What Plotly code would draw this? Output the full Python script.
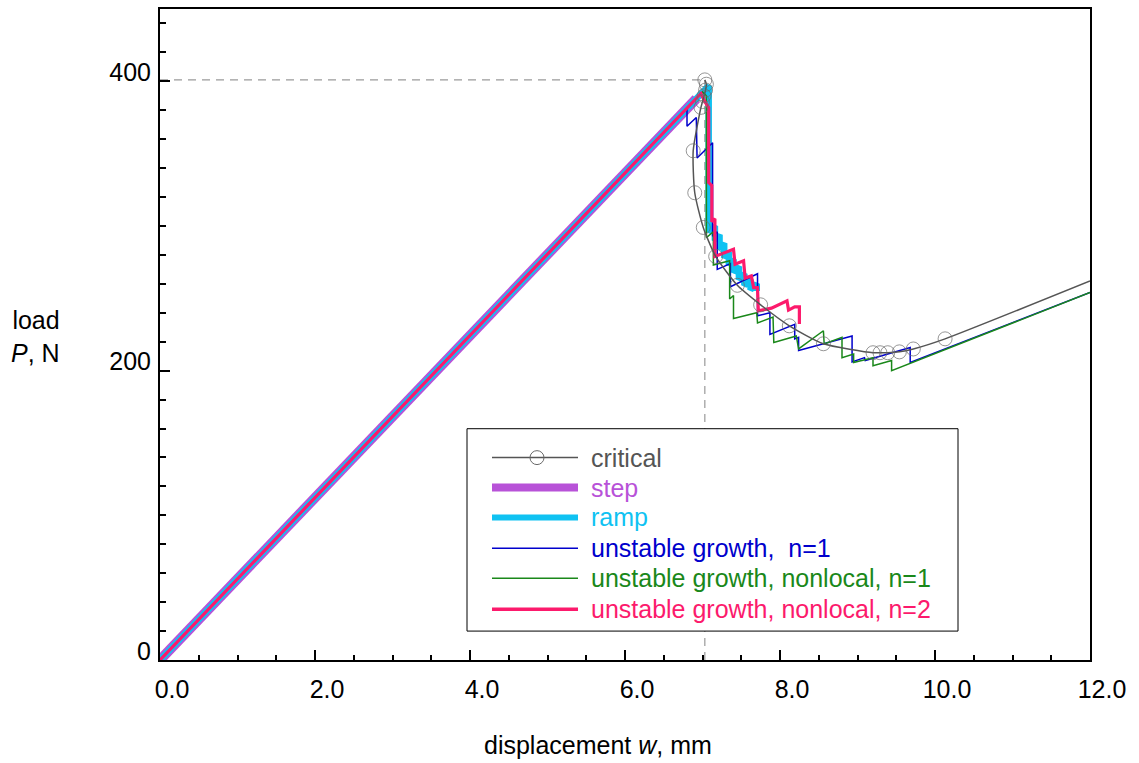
import plotly.graph_objects as go

# ---- load-displacement data (w in mm, P in N) ----
peak_w = 7.03
peak_P = 401

critical_w = [7.03, 7.05, 7.04, 7.02, 7.00, 6.98, 6.88, 6.90, 7.01, 7.17, 7.45, 7.75,
              8.12, 8.56, 9.20, 9.29, 9.39, 9.54, 9.72, 10.13, 12.0]
critical_P = [401, 398, 394, 390, 386, 382, 352, 323, 299, 279, 259, 245.5,
              231, 218.6, 212.4, 212.4, 212.4, 213, 215, 222, 262]

step_w = [0, 6.92]
step_P = [0, 388]

ramp_w = [0, 7.08, 7.08, 7.16, 7.16, 7.22, 7.22, 7.28, 7.28, 7.34, 7.34, 7.40, 7.40,
          7.47, 7.47, 7.54, 7.54, 7.62, 7.62, 7.70, 7.70]
ramp_P = [0, 397, 296, 300, 290, 294, 284, 288, 278, 282, 273, 277, 268,
          272, 263, 267, 259, 263, 256, 260, 255]

unstable_w = [0, 6.80, 6.80, 6.92, 6.93, 7.13, 7.13, 7.19, 7.19, 7.36, 7.36, 7.71, 7.71,
              7.87, 7.87, 8.19, 8.19, 8.24, 8.24, 8.93, 8.93, 9.09, 9.10, 9.68, 9.68, 12.0]
unstable_P = [0, 381.5, 369, 375, 347, 357.5, 293, 296, 270, 274, 258, 267, 238,
              240, 225, 232, 222, 223, 214, 224, 206, 209, 207, 216, 205.7, 254]

nonlocal1_w = [0, 7.00, 7.05, 7.05, 7.14, 7.14, 7.35, 7.35, 7.40, 7.40, 7.70, 7.71,
               7.91, 7.92, 8.21, 8.24, 8.56, 8.57, 8.80, 8.80, 8.95, 8.95, 9.20, 9.20,
               9.44, 9.44, 12.0]
nonlocal1_P = [0, 392.7, 390, 292, 296, 273, 276, 249.5, 252, 236, 240, 233,
               237, 219.5, 224, 215, 227.6, 218.4, 223, 209, 211.5, 205.7, 209, 203.4,
               207, 200, 254]

nonlocal2_w = [0, 6.98, 7.03, 7.08, 7.08, 7.12, 7.12, 7.16, 7.16, 7.40, 7.42, 7.53, 7.55,
               7.63, 7.66, 7.71, 7.72, 7.89, 8.09, 8.11, 8.19, 8.25, 8.25]
nonlocal2_P = [0, 391.6, 386, 382, 330, 328, 303, 305, 279, 284, 273.6, 276, 264,
               265.5, 257.4, 257.4, 241.4, 243.2, 248.3, 241.9, 244.1, 244.1, 232.2]

x_range = [0, 12]
y_range = [0, 450]

# ---- styling ----
FONT = "Liberation Sans, Arial, Helvetica, sans-serif"
FS = 25
C_CRIT = "#555555"
C_STEP = "#b852d8"
C_RAMP = "#0fc2f2"
C_BLUE = "#0000cc"
C_GREEN = "#1a881a"
C_PINK = "#fc1a6c"

W, H = 1139, 763
L, R, T, B = 160, 1090, 7, 660   # plot-area edges in pixels

fig = go.Figure()

fig.add_trace(go.Scatter(x=step_w, y=step_P, mode="lines",
                         line=dict(color=C_STEP, width=10)))
fig.add_trace(go.Scatter(x=ramp_w, y=ramp_P, mode="lines",
                         line=dict(color=C_RAMP, width=6.5)))
fig.add_trace(go.Scatter(x=unstable_w, y=unstable_P, mode="lines",
                         line=dict(color=C_BLUE, width=1.5)))
fig.add_trace(go.Scatter(x=nonlocal1_w, y=nonlocal1_P, mode="lines",
                         line=dict(color=C_GREEN, width=1.5)))
fig.add_trace(go.Scatter(x=nonlocal2_w, y=nonlocal2_P, mode="lines",
                         line=dict(color=C_PINK, width=3.2)))

sizes = [14] * len(critical_w)
sizes[-1] = 0
fig.add_trace(go.Scatter(x=critical_w, y=critical_P, mode="lines+markers",
                         line=dict(color=C_CRIT, width=1.5, shape="spline", smoothing=0.6),
                         marker=dict(symbol="circle-open", size=sizes, color="#6a6a6a",
                                     line=dict(width=1))))

# dashed guides through the critical peak
dash = dict(color="#9a9a9a", width=1.2, dash="8px,6px")
fig.add_shape(type="line", xref="x", yref="y", x0=0, x1=peak_w, y0=peak_P, y1=peak_P,
              line=dash, layer="below")
fig.add_shape(type="line", xref="x", yref="y", x0=peak_w, x1=peak_w, y0=0, y1=peak_P,
              line=dash, layer="below")


def px(x):
    return (x - L) / (R - L)


def py(y):
    return (B - y) / (B - T)


# legend panel
fig.add_shape(type="rect", xref="paper", yref="paper",
              x0=px(467), x1=px(958), y0=py(631), y1=py(428),
              line=dict(color="black", width=1), fillcolor="white", layer="above")

legend_items = [
    ("critical", C_CRIT, 1.5),
    ("step", C_STEP, 8),
    ("ramp", C_RAMP, 6),
    ("unstable growth,\u00a0 n=1", C_BLUE, 1.5),
    ("unstable growth, nonlocal, n=1", C_GREEN, 1.5),
    ("unstable growth, nonlocal, n=2", C_PINK, 3.5),
]
row_y = [457, 487, 517, 548, 578, 609]
for (label, col, lw), yy in zip(legend_items, row_y):
    fig.add_shape(type="line", xref="paper", yref="paper",
                  x0=px(492), x1=px(578), y0=py(yy), y1=py(yy),
                  line=dict(color=col, width=lw), layer="above")
    fig.add_annotation(x=px(589), y=py(yy), xref="paper", yref="paper",
                       text=label, showarrow=False, xanchor="left", yanchor="middle",
                       font=dict(family=FONT, size=FS, color=col))
# circle symbol of the "critical" entry
fig.add_shape(type="circle", xref="paper", yref="paper",
              x0=px(530), x1=px(544), y0=py(464), y1=py(450),
              line=dict(color="#6a6a6a", width=1), layer="above")

# axis titles
fig.add_annotation(x=px(598), y=py(745), xref="paper", yref="paper",
                   text="displacement <i>w</i>, mm", showarrow=False,
                   xanchor="center", yanchor="middle",
                   font=dict(family=FONT, size=FS, color="black"))
fig.add_annotation(x=px(62), y=py(336), xref="paper", yref="paper",
                   text="load<br><i>P</i>, N", showarrow=False, align="right",
                   xanchor="right", yanchor="middle",
                   font=dict(family=FONT, size=FS, color="black"))

axis_common = dict(showline=True, linecolor="black", linewidth=2, mirror=True,
                   showgrid=False, zeroline=False, ticks="inside", ticklen=10,
                   tickwidth=1.5, tickcolor="black",
                   tickfont=dict(family=FONT, size=FS, color="black"))

fig.update_xaxes(range=x_range, dtick=2, tick0=0, tickformat=".1f",
                 ticklabelshift=12, ticklabelstandoff=6,
                 minor=dict(dtick=0.5, ticks="inside", ticklen=5, tickwidth=1.5,
                            tickcolor="black", showgrid=False),
                 **axis_common)
fig.update_yaxes(range=y_range, dtick=200, tick0=0,
                 ticklabelshift=-9, ticklabelstandoff=2,
                 minor=dict(dtick=20, ticks="inside", ticklen=6, tickwidth=1.5,
                            tickcolor="black", showgrid=False),
                 **axis_common)

fig.update_layout(width=W, height=H, showlegend=False,
                  margin=dict(l=L, r=W - R, t=T, b=H - B),
                  plot_bgcolor="white", paper_bgcolor="white",
                  font=dict(family=FONT, size=FS, color="black"))

fig.write_html("out.html")
